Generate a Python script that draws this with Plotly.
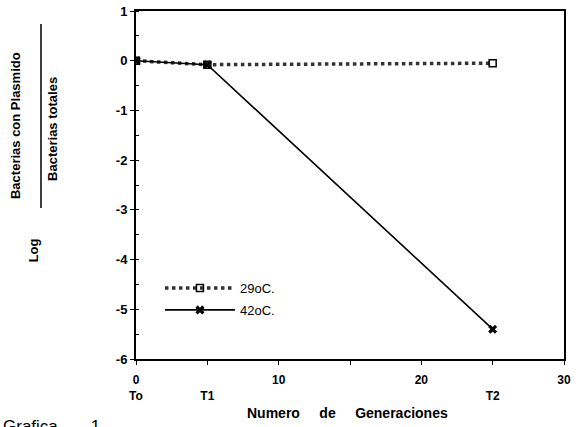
import plotly.graph_objects as go

generaciones = [0, 5, 25]
serie_29 = [0.0, -0.08, -0.05]
serie_42 = [0.0, -0.08, -5.4]
x_tickvals = [0, 5, 10, 15, 20, 25, 30]
x_ticktext = ["0<br>To", "<br>T1", "10", "", "20", "<br>T2", "30"]
y_tickvals = [1, 0, -1, -2, -3, -4, -5, -6]
y_ticktext = ["1", "0", "-1", "-2", "-3", "-4", "-5", "-6"]

fnt = "Liberation Sans, Arial, sans-serif"

fig = go.Figure()
fig.add_trace(go.Scatter(
    x=generaciones, y=serie_29, name="29oC.", mode="lines+markers", legendgroup="a",
    line=dict(color="#333333", width=3.5, dash="dot"),
    marker=dict(symbol="square-open", size=7, color="black", line=dict(width=1.5)),
))
fig.add_trace(go.Scatter(
    x=generaciones, y=serie_42, name="42oC.", mode="lines+markers", legendgroup="b",
    line=dict(color="black", width=1.6),
    marker=dict(symbol="x", size=8, color="black"),
))

fig.update_layout(
    width=576, height=427,
    margin=dict(l=136, r=12, t=11, b=68),
    paper_bgcolor="white", plot_bgcolor="white",
    font=dict(family=fnt, color="black", size=12),
    showlegend=True,
    legend=dict(x=0.056, y=0.247, xanchor="left", yanchor="top",
                bgcolor="rgba(0,0,0,0)", font=dict(size=13, family=fnt),
                itemwidth=70, tracegroupgap=2),
    xaxis=dict(range=[0, 30], tickvals=x_tickvals, ticktext=x_ticktext,
               automargin=False, ticklabelstandoff=5,
               showgrid=False, zeroline=False, showline=True, linecolor="black",
               linewidth=2, mirror=True, ticks="outside", ticklen=4,
               tickcolor="black", tickfont=dict(size=12, family=fnt, weight="bold")),
    yaxis=dict(range=[-6, 1], tickvals=y_tickvals, ticktext=y_ticktext,
               automargin=False,
               showgrid=False, zeroline=False, showline=True, linecolor="black",
               linewidth=2, mirror=True, ticks="outside", ticklen=4,
               tickcolor="black", tickfont=dict(size=13, family=fnt, weight="bold"),
               minor=dict(dtick=0.5, ticks="inside", ticklen=3, tickcolor="black")),
)

fig.add_annotation(text="<b>Bacterias con Plasmido</b>", xref="paper", yref="paper",
                   x=-0.283, y=0.672, xanchor="center", yanchor="middle",
                   textangle=-90, showarrow=False, font=dict(size=13, family=fnt))
fig.add_annotation(text="<b>Bacterias totales</b>", xref="paper", yref="paper",
                   x=-0.194, y=0.661, xanchor="center", yanchor="middle",
                   textangle=-90, showarrow=False, font=dict(size=13, family=fnt))
fig.add_annotation(text="<b>Log</b>", xref="paper", yref="paper",
                   x=-0.24, y=0.313, xanchor="center", yanchor="middle",
                   textangle=-90, showarrow=False, font=dict(size=13, family=fnt))
fig.add_shape(type="line", xref="paper", yref="paper",
              x0=-0.222, x1=-0.222, y0=0.434, y1=0.963,
              line=dict(color="black", width=1.5))
fig.add_annotation(text="<b>Numero     de     Generaciones</b>", xref="paper", yref="paper",
                   x=0.493, y=-0.155, xanchor="center", yanchor="middle", showarrow=False,
                   font=dict(size=14, family=fnt))
fig.add_annotation(text="Grafica       1", xref="paper", yref="paper",
                   x=-0.315, y=-0.161, xanchor="left", yanchor="top", showarrow=False,
                   font=dict(size=17, family=fnt))

fig.write_html("out.html")
